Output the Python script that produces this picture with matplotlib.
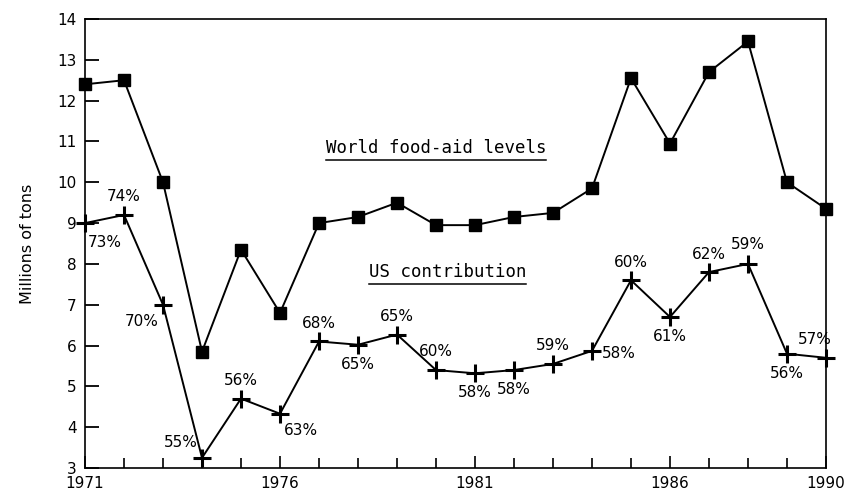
import matplotlib
matplotlib.use("Agg")
import matplotlib.pyplot as plt
from matplotlib.lines import Line2D

# data
years = list(range(1971, 1991))
world_aid = [12.4, 12.5, 10.0, 5.85, 8.35, 6.8, 9.0, 9.15, 9.5, 8.95,
             8.95, 9.15, 9.25, 9.85, 12.55, 10.95, 12.7, 13.45, 10.0, 9.35]
us_aid = [9.0, 9.2, 7.0, 3.25, 4.7, 4.33, 6.1, 6.02, 6.27, 5.4,
          5.32, 5.4, 5.55, 5.87, 7.6, 6.7, 7.8, 8.0, 5.8, 5.7]
us_share = [73, 74, 70, 55, 56, 63, 68, 65, 65, 60,
            58, 58, 59, 58, 60, 61, 62, 59, 56, 57]
# where each percent label sits relative to its point (offset in points)
label_offsets = [(14, -14), (0, 13), (-15, -12), (-15, 11), (0, 13), (15, -12),
                 (0, 13), (0, -14), (0, 13), (0, 13), (0, -14), (0, -14),
                 (0, 13), (19, -2), (0, 13), (0, -14), (0, 13), (0, 14),
                 (0, -14), (-8, 13)]
year_labels = [1971, 1976, 1981, 1986, 1990]

plt.rcParams['font.family'] = ['DejaVu Sans']

fig = plt.figure(figsize=(8.45, 4.91), dpi=100)
ax = fig.add_axes([0.1006, 0.0468, 0.8769, 0.9145])

ax.plot(years, world_aid, color='black', lw=1.4, marker='s', ms=8,
        mfc='black', mec='black', clip_on=False, zorder=3)
ax.plot(years, us_aid, color='black', lw=1.4, marker='+', ms=13,
        mew=2.2, clip_on=False, zorder=3)

for yr, val, pct, off in zip(years, us_aid, us_share, label_offsets):
    ax.annotate(f"{pct}%", (yr, val), xytext=off, textcoords='offset points',
                ha='center', va='center', fontsize=11)

ax.set_xlim(1971, 1990)
ax.set_ylim(3, 14)
ax.set_xticks(year_labels)
ax.set_xticklabels([str(y) for y in year_labels])
ax.set_xticks(years, minor=True)
ax.set_yticks(range(3, 15))
ax.tick_params(axis='both', which='both', direction='in', labelsize=11)
ax.tick_params(axis='y', length=10, width=1.3, pad=6)
ax.tick_params(axis='x', which='major', length=9, width=1.2, pad=6)
ax.tick_params(axis='x', which='minor', length=7, width=1.2)
for sp in ax.spines.values():
    sp.set_linewidth(1.2)

ax.set_ylabel("Millions of tons", fontsize=11.5, labelpad=16)

# underlined series titles
t1 = ax.text(1980.0, 10.85, "World food-aid levels", ha='center',
             va='center', fontsize=12.5, family='DejaVu Sans Mono')
t2 = ax.text(1980.3, 7.8, "US contribution", ha='center', va='center',
             fontsize=12.5, family='DejaVu Sans Mono')
fig.canvas.draw()
renderer = fig.canvas.get_renderer()
inv = fig.transFigure.inverted()
for t in (t1, t2):
    bb = t.get_window_extent(renderer)
    (x0, y0), (x1, _) = inv.transform([(bb.x0, bb.y0 - 3), (bb.x1, bb.y0)])
    fig.add_artist(Line2D([x0, x1], [y0, y0], color='black', lw=1.1,
                          transform=fig.transFigure))

fig.savefig("out.png", dpi=100)
